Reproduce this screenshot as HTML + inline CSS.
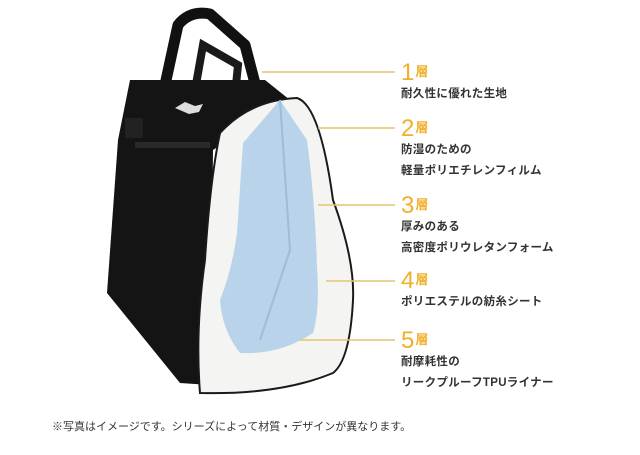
<!DOCTYPE html>
<html><head><meta charset="utf-8"><style>
body{margin:0;width:640px;height:455px;background:#fff;overflow:hidden;position:relative;font-family:"Liberation Sans","Noto Sans CJK JP",sans-serif}
.n{position:absolute;left:401px;color:#f0b02a;font-size:24px;line-height:24px;font-weight:300}
.n span{font-size:13px;font-weight:bold;margin-left:1px;vertical-align:4px}
.t{position:absolute;left:401px;font-size:11.5px;font-weight:bold;color:#333;line-height:21px;letter-spacing:.3px}
.note{position:absolute;left:52px;top:418px;font-size:11px;color:#333}
</style></head><body>
<svg width="640" height="455" style="position:absolute;left:0;top:0">
<path d="M165,85 L178,25 Q190,10 210,14 L245,45 L258,95" fill="none" stroke="#111" stroke-width="11" stroke-linejoin="round"/>
<path d="M195,90 L203,45 L238,65 L235,95" fill="none" stroke="#1a1a1a" stroke-width="8"/>
<polygon points="130,80 265,80 290,100 213,150 210,385 180,383 107,293 118,140" fill="#141414"/>
<rect x="125" y="118" width="18" height="20" fill="#222"/>
<rect x="135" y="142" width="75" height="6" fill="#2a2a2a"/>
<path d="M175,108 l10,-6 10,4 8,-2 -4,8 -10,2z" fill="#ddd"/>
<path d="M220,133 Q250,100 297,98 Q320,105 333,200 Q355,260 353,300 Q350,360 333,373 Q280,395 200,393 Q195,330 205,260 Q210,180 220,133Z" fill="#f4f4f2" stroke="#1a1a1a" stroke-width="2"/>
<path d="M243,143 L280,100 L307,140 Q315,200 317,267 Q320,310 313,333 Q280,355 240,353 Q222,330 220,300 Q232,270 237,233 Z" fill="#b9d3ea"/>
<path d="M280,100 L290,250 L260,340" fill="none" stroke="#9dbcd8" stroke-width="2"/>
<g stroke="#e3c470" stroke-width="1.5">
<line x1="262" y1="72" x2="395" y2="72"/>
<line x1="318" y1="128" x2="395" y2="128"/>
<line x1="318" y1="205" x2="395" y2="205"/>
<line x1="326" y1="281" x2="395" y2="281"/>
<line x1="300" y1="340" x2="395" y2="340"/>
</g>
</svg>
<div class="n" style="top:60px">1<span>層</span></div>
<div class="t" style="top:84px">耐久性に優れた生地</div>
<div class="n" style="top:116px">2<span>層</span></div>
<div class="t" style="top:140px">防湿のための<br>軽量ポリエチレンフィルム</div>
<div class="n" style="top:193px">3<span>層</span></div>
<div class="t" style="top:217px">厚みのある<br>高密度ポリウレタンフォーム</div>
<div class="n" style="top:268px">4<span>層</span></div>
<div class="t" style="top:292px">ポリエステルの紡糸シート</div>
<div class="n" style="top:328px">5<span>層</span></div>
<div class="t" style="top:352px">耐摩耗性の<br>リークプルーフTPUライナー</div>
<div class="note">※写真はイメージです。シリーズによって材質・デザインが異なります。</div>
</body></html>
